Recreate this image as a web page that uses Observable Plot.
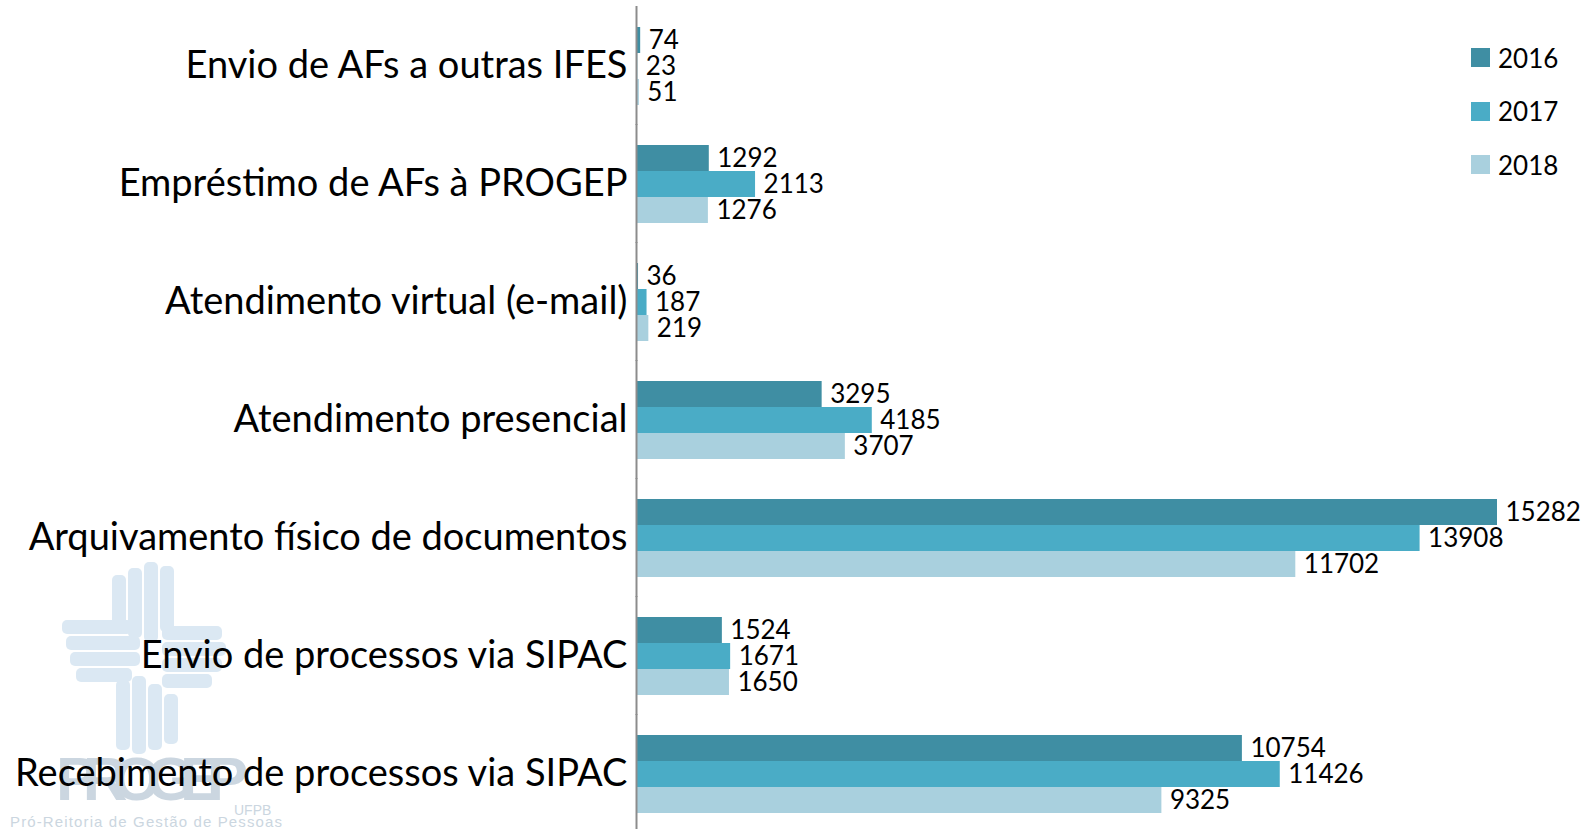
<!DOCTYPE html>
<html>
<head>
<meta charset="utf-8">
<script src="https://cdn.jsdelivr.net/npm/d3@7"></script>
<script src="https://cdn.jsdelivr.net/npm/@observablehq/plot@0.6"></script>
<style>
  html, body { margin: 0; padding: 0; background: #fff; overflow: hidden; width: 1587px; height: 829px; }
  #wrap { position: relative; width: 1587px; height: 829px; font-family: Lato, "Open Sans", sans-serif; color: #000; }
  #wm { position: absolute; left: 0; top: 0; z-index: 0; }
  #chart { position: absolute; left: 0; top: 0; z-index: 1; }
  #chart svg { background: transparent !important; overflow: visible; }
  #legend { position: absolute; left: 1471px; top: 31px; z-index: 2; font-size: 26px; }
  .item { display: flex; align-items: center; height: 53.6px; }
  .sw { width: 19px; height: 19px; margin-right: 8px; }
</style>
</head>
<body>
<div id="wrap">
  <svg id="wm" width="1587" height="829"></svg>
  <div id="chart"></div>
  <div id="legend"></div>
</div>
<script>
const categories = [
  "Envio de AFs a outras IFES",
  "Empréstimo de AFs à PROGEP",
  "Atendimento virtual (e-mail)",
  "Atendimento presencial",
  "Arquivamento físico de documentos",
  "Envio de processos via SIPAC",
  "Recebimento de processos via SIPAC"
];
const years = ["2016", "2017", "2018"];
const values2016 = [74, 1292, 36, 3295, 15282, 1524, 10754];
const values2017 = [23, 2113, 187, 4185, 13908, 1671, 11426];
const values2018 = [51, 1276, 219, 3707, 11702, 1650, 9325];
const colors = ["#3f8ea3", "#4aacc6", "#a9d0de"];

const series = [values2016, values2017, values2018];
const data = [];
categories.forEach((c, i) => {
  years.forEach((y, j) => data.push({cat: c, year: y, value: series[j][i]}));
});

// watermark (PROGEP logo, faint)
const wm = d3.select("#wm");
const g = wm.append("g").attr("opacity", 0.5);
const pale = "#b9d3e8";
[[112, 575, 14, 50], [128, 568, 14, 70], [144, 562, 14, 80], [160, 566, 14, 66]].forEach(([x, y, w, h]) =>
  g.append("rect").attr("x", x).attr("y", y).attr("width", w).attr("height", h).attr("rx", 5).attr("fill", pale));
[[62, 620, 70, 14], [66, 636, 74, 14], [70, 652, 70, 14], [76, 668, 56, 14]].forEach(([x, y, w, h]) =>
  g.append("rect").attr("x", x).attr("y", y).attr("width", w).attr("height", h).attr("rx", 5).attr("fill", pale));
[[162, 626, 60, 14], [162, 642, 64, 14], [162, 658, 60, 14], [162, 674, 50, 14]].forEach(([x, y, w, h]) =>
  g.append("rect").attr("x", x).attr("y", y).attr("width", w).attr("height", h).attr("rx", 5).attr("fill", pale));
[[116, 680, 14, 70], [132, 676, 14, 78], [148, 684, 14, 66], [164, 694, 14, 50]].forEach(([x, y, w, h]) =>
  g.append("rect").attr("x", x).attr("y", y).attr("width", w).attr("height", h).attr("rx", 5).attr("fill", pale));
wm.append("text").attr("x", 56).attr("y", 800).attr("font-family", "Liberation Sans, Arial, sans-serif")
  .attr("font-weight", "bold").attr("font-size", 62).attr("fill", "#cbd6e0").attr("textLength", 192).text("PROGEP");
wm.append("text").attr("x", 234).attr("y", 815).attr("font-family", "Liberation Sans, Arial, sans-serif")
  .attr("font-size", 14).attr("fill", "#cbd6e0").text("UFPB");
wm.append("text").attr("x", 10).attr("y", 827).attr("font-family", "Liberation Sans, Arial, sans-serif")
  .attr("font-size", 15).attr("fill", "#cbd6e0").attr("textLength", 272).text("Pró-Reitoria de Gestão de Pessoas");

const chart = Plot.plot({
  width: 1587,
  height: 833,
  marginLeft: 636,
  marginRight: 90,
  marginTop: 6,
  marginBottom: 0,
  style: {background: "transparent", fontFamily: "Lato, 'Open Sans', sans-serif", color: "#000"},
  x: {domain: [0, 15282], axis: null},
  y: {domain: years, padding: 0, axis: null},
  fy: {domain: categories, paddingInner: 0.333, paddingOuter: 0.1667, axis: null},
  color: {domain: years, range: colors},
  marks: [
    Plot.barX(data, {fy: "cat", y: "year", x: "value", fill: "year"}),
    Plot.text(data, {fy: "cat", y: "year", x: "value", text: d => String(d.value),
      textAnchor: "start", dx: 8, fontSize: 26, fill: "#000"}),
    Plot.ruleX([0], {stroke: "#8c8c8c", strokeWidth: 2, insetTop: -20, insetBottom: -20}),
    Plot.axisFy({anchor: "left", tickSize: 0, tickPadding: 9, label: null, fontSize: 38, fill: "#000"})
  ]
});
document.getElementById("chart").appendChild(chart);

const legend = d3.select("#legend");
years.forEach((y, j) => {
  const it = legend.append("div").attr("class", "item");
  it.append("div").attr("class", "sw").style("background", colors[j]);
  it.append("span").text(y);
});
</script>
</body>
</html>
